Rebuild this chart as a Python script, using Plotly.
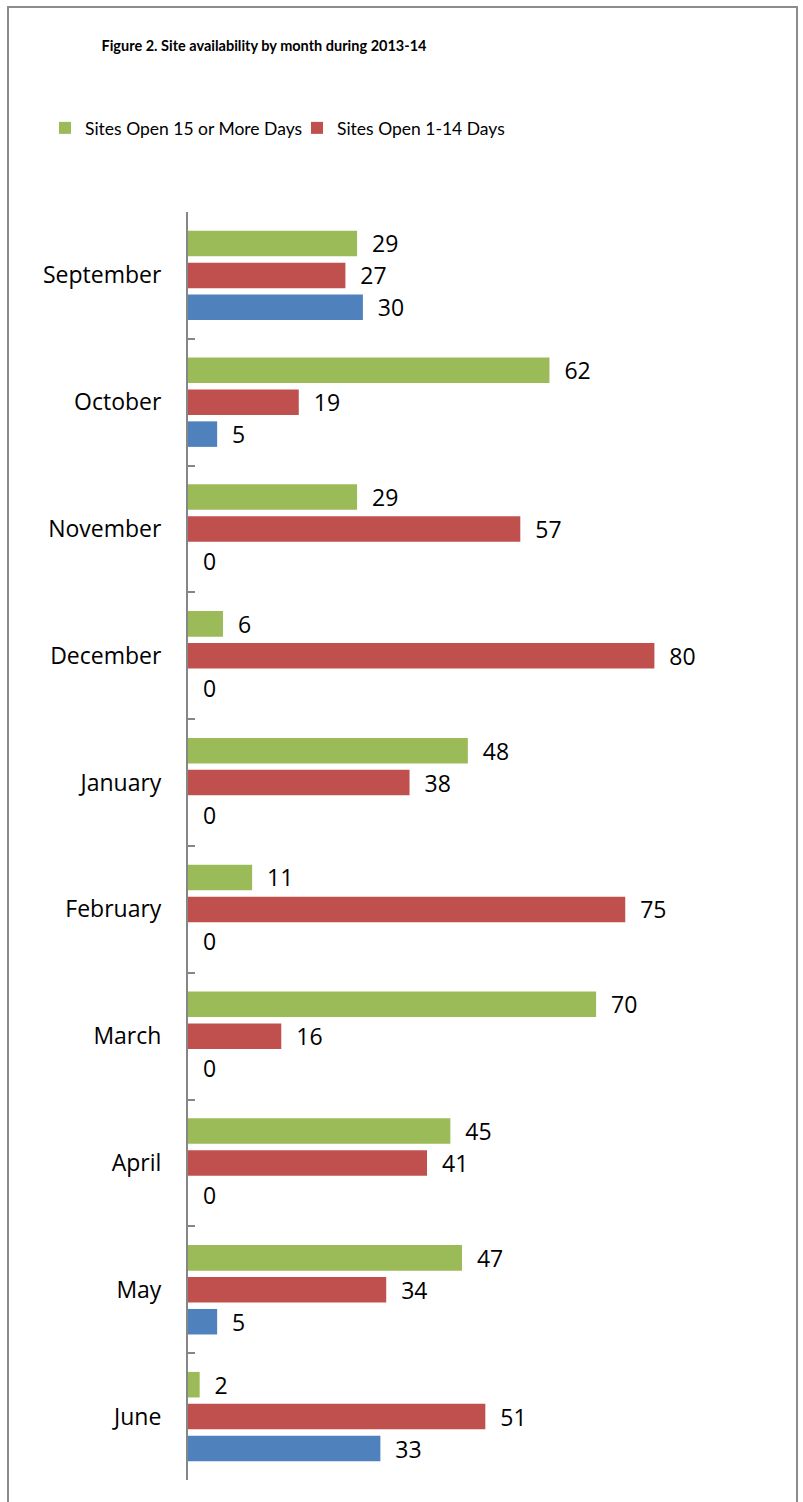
import plotly.graph_objects as go

months = ["September", "October", "November", "December", "January",
          "February", "March", "April", "May", "June"]
open_15_plus = [29, 62, 29, 6, 48, 11, 70, 45, 47, 2]
open_1_14 = [27, 19, 57, 80, 38, 75, 16, 41, 34, 51]
third_series = [30, 5, 0, 0, 0, 0, 0, 0, 5, 33]

series_names = ["Sites Open 15 or More Days", "Sites Open 1-14 Days", "Sites Closed"]
colors = ["#9BBB59", "#C0504D", "#4F81BD"]
title_text = "Figure 2. Site availability by month during 2013-14"

W, H = 803, 1502
# page-pixel layout of the plot area
PL, PR, PT, PB = 188, 771, 212, 1480
ML, MT, MR, MB = PL, PT, W - PR, H - PB
PW, PH = PR - PL, PB - PT

def px_x(x):
    return (x - PL) / PW

def px_y(y):
    return (PB - y) / PH

fig = go.Figure()
for vals, name, col, show in zip([open_15_plus, open_1_14, third_series],
                                 series_names, colors, [True, True, False]):
    fig.add_trace(go.Bar(
        y=months, x=vals, orientation="h", name=name,
        marker=dict(color=col, line=dict(width=0)),
        text=vals, texttemplate="\u00a0\u00a0%{x}", textposition="outside",
        constraintext="none",
        textfont=dict(family="Open Sans", size=23, color="#000000"),
        cliponaxis=False, showlegend=show,
    ))

fig.update_layout(
    width=W, height=H,
    margin=dict(l=ML, r=MR, t=MT, b=MB, autoexpand=False),
    paper_bgcolor="white", plot_bgcolor="white",
    barmode="group", bargap=0.245, bargroupgap=0.2,
    title=dict(text="<b>" + title_text + "</b>", x=px_x(264), xref="paper", xanchor="center",
               y=1 - 46 / H, yanchor="middle",
               font=dict(family="Lato", size=14.5, color="#000000")),
    legend=dict(orientation="h", x=px_x(45), xanchor="left", y=px_y(128), yanchor="middle",
                font=dict(family="Lato", size=17.5, color="#000000"),
                traceorder="normal", entrywidth=207, entrywidthmode="pixels",
                bgcolor="rgba(0,0,0,0)"),
    xaxis=dict(range=[0, 100], visible=False, showgrid=False, zeroline=False),
    yaxis=dict(autorange="reversed", type="category", showline=True, linecolor="#868686",
               linewidth=2, ticks="inside", tickson="boundaries", ticklen=7, tickwidth=2,
               tickcolor="#868686", showgrid=False, zeroline=False, ticklabelstandoff=20,
               tickfont=dict(family="Open Sans", size=23, color="#000000")),
    shapes=[dict(type="rect", xref="paper", yref="paper",
                 x0=px_x(8), x1=px_x(797), y0=px_y(1530), y1=px_y(7),
                 line=dict(color="#8C8C8C", width=2), fillcolor="rgba(0,0,0,0)", layer="below")],
)

fig.write_html("out.html", post_script="document.body.style.margin='0';",
               config={"displayModeBar": False})
